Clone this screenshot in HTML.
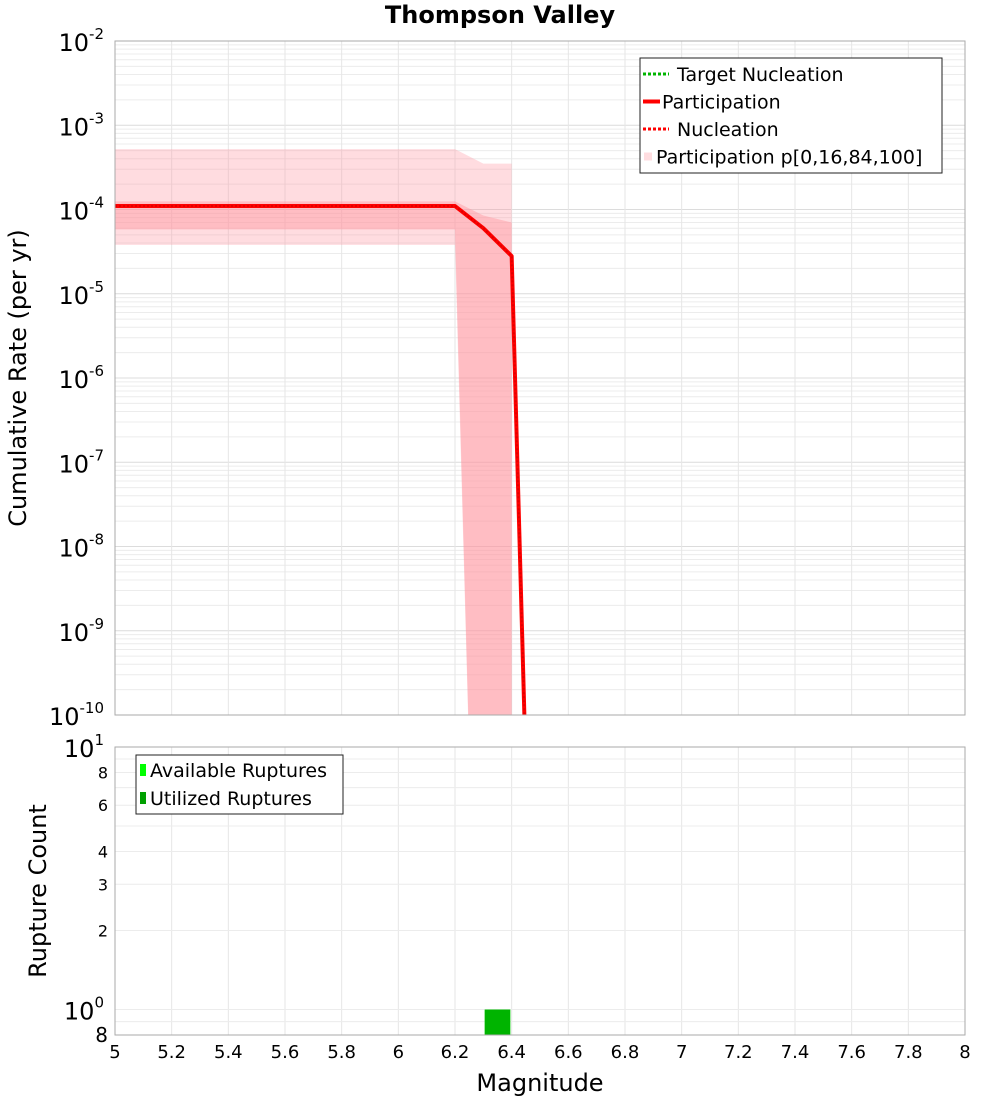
<!DOCTYPE html>
<html><head><meta charset="utf-8"><style>
html,body{margin:0;padding:0;background:#fff;}
svg{display:block;font-family:"DejaVu Sans","Liberation Sans",sans-serif;}
</style></head><body>
<svg id="chart" width="1000" height="1100" viewBox="0 0 1000 1100" xmlns="http://www.w3.org/2000/svg">
<text x="500" y="23" text-anchor="middle" font-size="24" font-weight="bold">Thompson Valley</text>
<g id="gtop"></g>
<g id="gbot"></g>
<text transform="translate(26,378) rotate(-90)" text-anchor="middle" font-size="24">Cumulative Rate (per yr)</text>
<text transform="translate(46,891) rotate(-90)" text-anchor="middle" font-size="24">Rupture Count</text>
<text x="540" y="1091" text-anchor="middle" font-size="24">Magnitude</text>
</svg>
<script>
// data
const mags = [5.0,5.1,5.2,5.3,5.4,5.5,5.6,5.7,5.8,5.9,6.0,6.1,6.2,6.3,6.4,6.5];
const participation = [1.1e-4,1.1e-4,1.1e-4,1.1e-4,1.1e-4,1.1e-4,1.1e-4,1.1e-4,1.1e-4,1.1e-4,1.1e-4,1.1e-4,1.1e-4,6e-5,2.8e-5,2e-17];
const nucleation = [1.1e-4,1.1e-4,1.1e-4,1.1e-4,1.1e-4,1.1e-4,1.1e-4,1.1e-4,1.1e-4,1.1e-4,1.1e-4,1.1e-4,1.1e-4,6e-5,2.8e-5,2e-17];
const bandMags = [5.0,5.1,5.2,5.3,5.4,5.5,5.6,5.7,5.8,5.9,6.0,6.1,6.2,6.3,6.4];
const p0 = [3.8e-5,3.8e-5,3.8e-5,3.8e-5,3.8e-5,3.8e-5,3.8e-5,3.8e-5,3.8e-5,3.8e-5,3.8e-5,3.8e-5,3.8e-5,3e-17,3e-17];
const p16 = [5.8e-5,5.8e-5,5.8e-5,5.8e-5,5.8e-5,5.8e-5,5.8e-5,5.8e-5,5.8e-5,5.8e-5,5.8e-5,5.8e-5,5.8e-5,3e-17,3e-17];
const p84 = [1.25e-4,1.25e-4,1.25e-4,1.25e-4,1.25e-4,1.25e-4,1.25e-4,1.25e-4,1.25e-4,1.25e-4,1.25e-4,1.25e-4,1.25e-4,8.5e-5,7e-5];
const p100 = [5.2e-4,5.2e-4,5.2e-4,5.2e-4,5.2e-4,5.2e-4,5.2e-4,5.2e-4,5.2e-4,5.2e-4,5.2e-4,5.2e-4,5.2e-4,3.5e-4,3.5e-4];
const barMags = [6.35];
const availableCounts = [1];
const utilizedCounts = [1];
const xTicks = [5,5.2,5.4,5.6,5.8,6,6.2,6.4,6.6,6.8,7,7.2,7.4,7.6,7.8,8];
const rateExps = [-2,-3,-4,-5,-6,-7,-8,-9,-10];
const countTicks = [2,3,4,6,8];

const NS="http://www.w3.org/2000/svg";
const L=115,R=965,T1=41,B1=715,T2=747,B2=1035;
const xS=m=>L+(m-5)/3*(R-L);
const y1=v=>T1+(-2-Math.log10(v))/8*(B1-T1);
const lo2=Math.log10(0.8);
const y2=v=>T2+(1-Math.log10(v))/(1-lo2)*(B2-T2);
function mk(p,tag,a){const e=document.createElementNS(NS,tag);for(const k in a)e.setAttribute(k,a[k]);p.appendChild(e);return e;}
const svgEl=document.getElementById('chart');
const defs=mk(svgEl,'defs',{});
const cp=mk(defs,'clipPath',{id:'c1'});mk(cp,'rect',{x:L,y:T1,width:R-L,height:B1-T1});
const cp2=mk(defs,'clipPath',{id:'c2'});mk(cp2,'rect',{x:L,y:T2,width:R-L,height:B2-T2});
const gTop=document.getElementById('gtop'),gBot=document.getElementById('gbot');

// top grid
for(let e=-10;e<-2;e++)for(let k=1;k<10;k++){const y=y1(k*Math.pow(10,e));
 const g=mk(gTop,'line',{x1:L,x2:R,y1:y,y2:y,stroke:k==1?'#dcdcdc':'#ececec','stroke-width':1});
 
 }
for(let i=0;i<=15;i++){const x=xS(5+i*0.2);
 const g=mk(gTop,'line',{x1:x,x2:x,y1:T1,y2:B1,stroke:'#e6e6e6'});
 
 
 const g2=mk(gBot,'line',{x1:x,x2:x,y1:T2,y2:B2,stroke:'#e6e6e6'});
 
 }
for(let k=1;k<=10;k++){const y=y2(k);
 const g=mk(gBot,'line',{x1:L,x2:R,y1:y,y2:y,stroke:'#ececec'});
 
 }
mk(gBot,'line',{x1:L,x2:R,y1:y2(0.9),y2:y2(0.9),stroke:'#ececec'});

// bands
function band(lo,hi,fill,name){let d='';bandMags.forEach((m,i)=>{d+=(i?'L':'M')+xS(m)+','+y1(hi[i]);});
 for(let i=bandMags.length-1;i>=0;i--)d+='L'+xS(bandMags[i])+','+y1(lo[i]);
 const p=mk(gTop,'path',{d:d+'Z',fill:fill,'clip-path':'url(#c1)'});
 
 }
band(p0,p100,'rgba(255,150,160,0.33)','band-p0-p100');
band(p16,p84,'rgba(255,150,160,0.45)','band-p16-p84');
// lines
function line(vals,attrs,name){const d=mags.map((m,i)=>(i?'L':'M')+xS(m)+','+y1(vals[i])).join('');
 const p=mk(gTop,'path',Object.assign({d:d,fill:'none','clip-path':'url(#c1)','stroke-linejoin':'round'},attrs));
 
 }
line(participation,{stroke:'#ff0000','stroke-width':4},'participation-line');
line(nucleation,{stroke:'#e00000','stroke-width':2,'stroke-dasharray':'2,2'},'nucleation-line');
mk(gTop,'rect',{x:L,y:T1,width:R-L,height:B1-T1,fill:'none',stroke:'#aaa'});

// top y labels
rateExps.forEach(e=>{const y=y1(Math.pow(10,e));const t=mk(gTop,'text',{x:104,y:y+10,'text-anchor':'end','font-size':24});
 t.textContent='10';const s=mk(t,'tspan',{dy:-12,'font-size':15});s.textContent=String(e);
 
 });

// bottom bars
barMags.forEach((m,i)=>{const w=xS(m+0.045)-xS(m-0.045);
 const a=mk(gBot,'rect',{x:xS(m-0.045),y:y2(availableCounts[i]),width:w,height:B2-y2(availableCounts[i]),fill:'#00ff00','clip-path':'url(#c2)'});
 
 
 const b=mk(gBot,'rect',{x:xS(m-0.045),y:y2(utilizedCounts[i]),width:w,height:B2-y2(utilizedCounts[i]),fill:'#00b400','clip-path':'url(#c2)'});
 
 });
mk(gBot,'rect',{x:L,y:T2,width:R-L,height:B2-T2,fill:'none',stroke:'#aaa'});
countTicks.forEach(v=>{const t=mk(gBot,'text',{x:108,y:y2(v)+6,'text-anchor':'end','font-size':16});t.textContent=v;
 
 });
[[10,'1'],[1,'0']].forEach(([v,e])=>{const t=mk(gBot,'text',{x:104,y:y2(v)+10,'text-anchor':'end','font-size':24});t.textContent='10';
 const s=mk(t,'tspan',{dy:-12,'font-size':15});s.textContent=e;
 
 });
{const t=mk(gBot,'text',{x:108,y:1042,'text-anchor':'end','font-size':20});t.textContent='8';
 
 }
xTicks.forEach(m=>{const t=mk(gBot,'text',{x:xS(m),y:1058,'text-anchor':'middle','font-size':18});t.textContent=String(m);
 
 });

// legends
const lg=mk(gTop,'g',{});


mk(lg,'rect',{x:640,y:58,width:302,height:115,fill:'#fff',stroke:'#222'});
const items=[['Target Nucleation','dot','#00b400',677],['Participation','solid','#ff0000',662],['Nucleation','dot','#ff0000',677],['Participation p[0,16,84,100]','sq','#ffdde0',656]];
items.forEach((it,i)=>{const y=74+i*27.5;
 if(it[1]=='dot')mk(lg,'line',{x1:643,x2:669,y1:y,y2:y,stroke:it[2],'stroke-width':3,'stroke-dasharray':'3,2'});
 else if(it[1]=='solid')mk(lg,'line',{x1:643,x2:660,y1:y,y2:y,stroke:it[2],'stroke-width':4});
 else mk(lg,'rect',{x:644,y:y-4,width:8,height:8,fill:it[2]});
 const t=mk(lg,'text',{x:it[3],y:y+7,'font-size':19});t.textContent=it[0];
 
 });
const lg2=mk(gBot,'g',{});


mk(lg2,'rect',{x:136,y:755,width:207,height:59,fill:'#fff',stroke:'#222'});
[['Available Ruptures','#00ff00'],['Utilized Ruptures','#00a000']].forEach((it,i)=>{const y=770+i*28;
 mk(lg2,'rect',{x:140,y:y-6,width:6,height:12,fill:it[1]});
 const t=mk(lg2,'text',{x:150,y:y+7,'font-size':19});t.textContent=it[0];
 
 });
</script>
</body></html>
